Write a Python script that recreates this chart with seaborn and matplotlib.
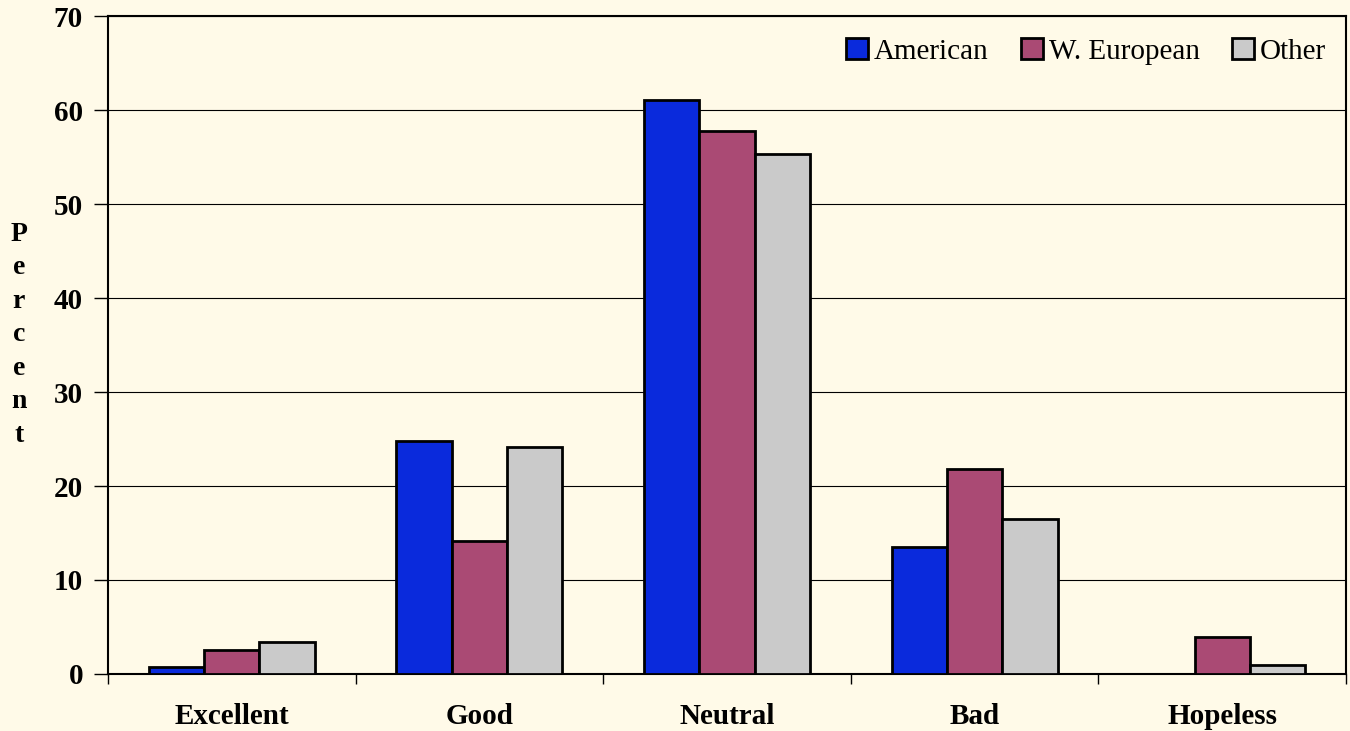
import pandas as pd
import seaborn as sns
import matplotlib.pyplot as plt

# Datos
categorias = ['Excellent', 'Good', 'Neutral', 'Bad', 'Hopeless']
grupos = ['American', 'W. European', 'Other']
american = [0.7, 24.8, 61.1, 13.5, 0.0]
w_european = [2.6, 14.1, 57.8, 21.8, 3.9]
other = [3.4, 24.1, 55.3, 16.5, 1.0]
colores = ['#0A2ADC', '#AA4A74', '#CACACA']
fondo = '#FFFAE8'

# Tabla larga para seaborn
filas = []
for grupo, valores in zip(grupos, [american, w_european, other]):
    for cat, v in zip(categorias, valores):
        filas.append({'Categoria': cat, 'Grupo': grupo, 'Percent': v})
df = pd.DataFrame(filas)

sns.set_style('white')
plt.rcParams['font.family'] = ['Liberation Serif', 'DejaVu Serif']
plt.rcParams['text.color'] = 'black'
plt.rcParams['xtick.color'] = 'black'
plt.rcParams['ytick.color'] = 'black'

fig = plt.figure(figsize=(13.5, 7.31), dpi=100, facecolor=fondo)
ax = fig.add_axes([0.08, 0.078, 0.917, 0.9])
ax.set_facecolor(fondo)

sns.barplot(data=df, x='Categoria', y='Percent', hue='Grupo', order=categorias,
            hue_order=grupos, palette=colores, edgecolor='black', linewidth=2,
            width=0.67, saturation=1, errorbar=None, ax=ax, zorder=3)

ax.set_ylim(0, 70)
ax.set_xlim(-0.5, 4.5)
ax.set_yticks(range(0, 71, 10))
ax.yaxis.grid(True, color='black', linewidth=0.8)
ax.set_axisbelow(True)

for s in ax.spines.values():
    s.set_color('black')
    s.set_linewidth(1.5)

ax.tick_params(axis='y', left=True, length=10, width=1, color='black',
               labelsize=21, pad=8, labelcolor='black')
ax.tick_params(axis='x', which='major', bottom=False, length=0, labelsize=21,
               pad=21, labelcolor='black')
ax.set_xticks([i - 0.5 for i in range(6)], minor=True)
ax.tick_params(axis='x', which='minor', bottom=True, length=7, width=1, color='black')
for lab in ax.get_xticklabels() + ax.get_yticklabels():
    lab.set_fontweight('bold')

ax.set_xlabel('')
ax.set_ylabel('')
fig.text(0.014, 0.542, '\n'.join('Percent'), fontsize=20, fontweight='bold',
         ha='center', va='center', linespacing=1.45)

ax.legend(loc='upper right', bbox_to_anchor=(1.0, 0.998), ncol=3, frameon=False,
          fontsize=21, handlelength=0.75, handleheight=0.75, handletextpad=0.2,
          columnspacing=1.1, borderaxespad=0.3)

plt.savefig('out.png', dpi=100, facecolor=fondo)
